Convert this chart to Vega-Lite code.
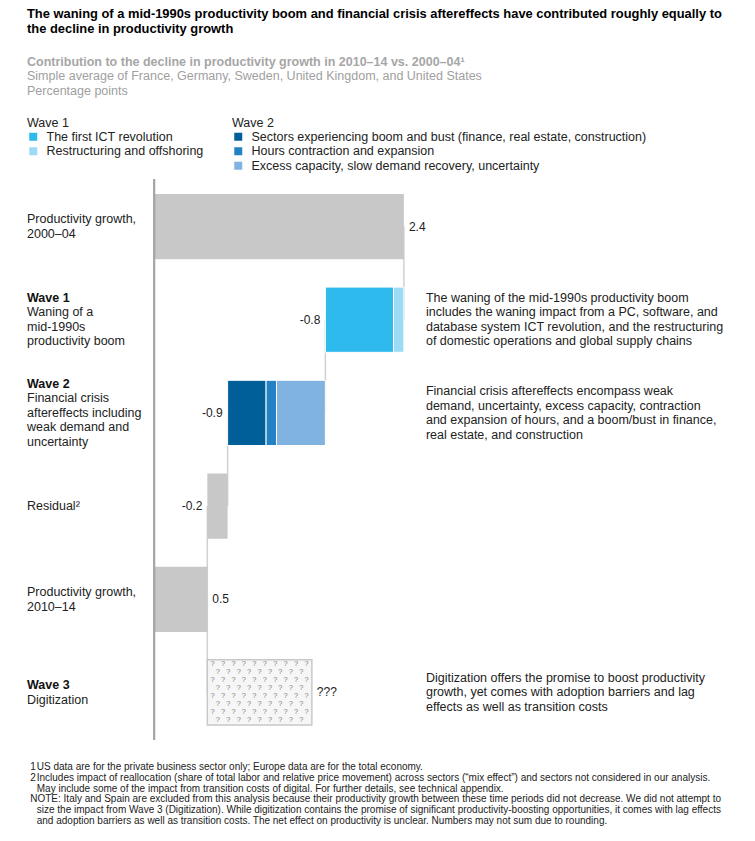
{
  "$schema": "https://vega.github.io/schema/vega-lite/v6.json",
  "padding": {"left": 27, "top": 8, "right": 5, "bottom": 5},
  "background": "white",
  "title": {
    "text": ["The waning of a mid-1990s productivity boom and financial crisis aftereffects have contributed roughly equally to", "the decline in productivity growth"],
    "anchor": "start",
    "font": "Liberation Sans",
    "fontSize": 12.9,
    "fontWeight": "bold",
    "color": "#000000",
    "lineHeight": 15,
    "offset": 20
  },
  "datasets": {
    "segments": [
      {"row": "p2000", "segment": "Productivity growth, 2000–04", "start": 0, "end": 2.4},
      {"row": "wave1", "segment": "The first ICT revolution", "start": 1.645, "end": 2.3},
      {"row": "wave1", "segment": "Restructuring and offshoring", "start": 2.3, "end": 2.4},
      {"row": "wave2", "segment": "Sectors experiencing boom and bust (finance, real estate, construction)", "start": 0.705, "end": 1.075},
      {"row": "wave2", "segment": "Hours contraction and expansion", "start": 1.075, "end": 1.175},
      {"row": "wave2", "segment": "Excess capacity, slow demand recovery, uncertainty", "start": 1.175, "end": 1.645},
      {"row": "residual", "segment": "Residual", "start": 0.51, "end": 0.705},
      {"row": "p2010", "segment": "Productivity growth, 2010–14", "start": 0, "end": 0.51},
      {"row": "wave3", "segment": "Digitization", "start": 0.51, "end": 1.515}
    ],
    "rows": [
      {"row": "p2000", "heading": "", "label": "Productivity growth,\n2000–04", "value": "2.4", "low": 0, "high": 2.4, "change": "total", "note": ""},
      {"row": "wave1", "heading": "Wave 1", "label": "Waning of a\nmid-1990s\nproductivity boom", "value": "-0.8", "low": 1.645, "high": 2.4, "change": "decrease", "note": "The waning of the mid-1990s productivity boom\nincludes the waning impact from a PC, software, and\ndatabase system ICT revolution, and the restructuring\nof domestic operations and global supply chains"},
      {"row": "wave2", "heading": "Wave 2", "label": "Financial crisis\naftereffects including\nweak demand and\nuncertainty", "value": "-0.9", "low": 0.705, "high": 1.645, "change": "decrease", "note": "Financial crisis aftereffects encompass weak\ndemand, uncertainty, excess capacity, contraction\nand expansion of hours, and a boom/bust in finance,\nreal estate, and construction"},
      {"row": "residual", "heading": "", "label": "Residual²", "value": "-0.2", "low": 0.51, "high": 0.705, "change": "decrease", "note": ""},
      {"row": "p2010", "heading": "", "label": "Productivity growth,\n2010–14", "value": "0.5", "low": 0, "high": 0.51, "change": "total", "note": ""},
      {"row": "wave3", "heading": "Wave 3", "label": "Digitization", "value": "???", "low": 0.51, "high": 1.515, "change": "unknown", "note": "Digitization offers the promise to boost productivity\ngrowth, yet comes with adoption barriers and lag\neffects as well as transition costs"}
    ],
    "connectors": [
      {"from": "p2000", "to": "wave1", "at": 2.4},
      {"from": "wave1", "to": "wave2", "at": 1.645},
      {"from": "wave2", "to": "residual", "at": 0.705},
      {"from": "residual", "to": "p2010", "at": 0.51},
      {"from": "p2010", "to": "wave3", "at": 0.51}
    ],
    "pattern": [
      {"row": "wave3", "marks": "?\u00a0\u00a0\u00a0?\u00a0\u00a0\u00a0?\u00a0\u00a0\u00a0?\u00a0\u00a0\u00a0?\u00a0\u00a0\u00a0?\u00a0\u00a0\u00a0?\u00a0\u00a0\u00a0?\u00a0\u00a0\u00a0?\u00a0\u00a0\u00a0?\n?\u00a0\u00a0\u00a0?\u00a0\u00a0\u00a0?\u00a0\u00a0\u00a0?\u00a0\u00a0\u00a0?\u00a0\u00a0\u00a0?\u00a0\u00a0\u00a0?\u00a0\u00a0\u00a0?\u00a0\u00a0\u00a0?\n?\u00a0\u00a0\u00a0?\u00a0\u00a0\u00a0?\u00a0\u00a0\u00a0?\u00a0\u00a0\u00a0?\u00a0\u00a0\u00a0?\u00a0\u00a0\u00a0?\u00a0\u00a0\u00a0?\u00a0\u00a0\u00a0?\u00a0\u00a0\u00a0?\n?\u00a0\u00a0\u00a0?\u00a0\u00a0\u00a0?\u00a0\u00a0\u00a0?\u00a0\u00a0\u00a0?\u00a0\u00a0\u00a0?\u00a0\u00a0\u00a0?\u00a0\u00a0\u00a0?\u00a0\u00a0\u00a0?\n?\u00a0\u00a0\u00a0?\u00a0\u00a0\u00a0?\u00a0\u00a0\u00a0?\u00a0\u00a0\u00a0?\u00a0\u00a0\u00a0?\u00a0\u00a0\u00a0?\u00a0\u00a0\u00a0?\u00a0\u00a0\u00a0?\u00a0\u00a0\u00a0?\n?\u00a0\u00a0\u00a0?\u00a0\u00a0\u00a0?\u00a0\u00a0\u00a0?\u00a0\u00a0\u00a0?\u00a0\u00a0\u00a0?\u00a0\u00a0\u00a0?\u00a0\u00a0\u00a0?\u00a0\u00a0\u00a0?\n?\u00a0\u00a0\u00a0?\u00a0\u00a0\u00a0?\u00a0\u00a0\u00a0?\u00a0\u00a0\u00a0?\u00a0\u00a0\u00a0?\u00a0\u00a0\u00a0?\u00a0\u00a0\u00a0?\u00a0\u00a0\u00a0?\u00a0\u00a0\u00a0?\n?\u00a0\u00a0\u00a0?\u00a0\u00a0\u00a0?\u00a0\u00a0\u00a0?\u00a0\u00a0\u00a0?\u00a0\u00a0\u00a0?\u00a0\u00a0\u00a0?\u00a0\u00a0\u00a0?\u00a0\u00a0\u00a0?"}
    ],
    "footnotes": [
      {"line": 1, "col": "a", "text": "1"},
      {"line": 1, "col": "b", "text": "US data are for the private business sector only; Europe data are for the total economy."},
      {"line": 2, "col": "a", "text": "2"},
      {"line": 2, "col": "b", "text": "Includes impact of reallocation (share of total labor and relative price movement) across sectors (“mix effect”) and sectors not considered in our analysis."},
      {"line": 3, "col": "b", "text": "May include some of the impact from transition costs of digital. For further details, see technical appendix."},
      {"line": 4, "col": "a", "text": "NOTE: Italy and Spain are excluded from this analysis because their productivity growth between these time periods did not decrease. We did not attempt to"},
      {"line": 5, "col": "b", "text": "size the impact from Wave 3 (Digitization). While digitization contains the promise of significant productivity-boosting opportunities, it comes with lag effects"},
      {"line": 6, "col": "b", "text": "and adoption barriers as well as transition costs. The net effect on productivity is unclear. Numbers may not sum due to rounding."}
    ]
  },
  "vconcat": [
    {
      "width": 718,
      "height": 561,
      "title": {
        "text": "Contribution to the decline in productivity growth in 2010–14 vs. 2000–04¹",
        "subtitle": ["Simple average of France, Germany, Sweden, United Kingdom, and United States", "Percentage points"],
        "anchor": "start",
        "font": "Liberation Sans",
        "fontSize": 12.5,
        "fontWeight": "bold",
        "color": "#A6A6A6",
        "subtitleFont": "Liberation Sans",
        "subtitleFontSize": 12.5,
        "subtitleColor": "#A0A0A0",
        "subtitleLineHeight": 14.3,
        "subtitlePadding": 2,
        "offset": 81
      },
      "layer": [
        {
          "data": {"name": "connectors"},
          "mark": {"type": "rule", "color": "#D0D0D0", "strokeWidth": 1.5},
          "encoding": {
            "x": {"field": "at", "type": "quantitative", "axis": null, "scale": {"domain": [-1.224, 5.68], "nice": false, "zero": false}},
            "y": {"field": "from", "type": "nominal", "axis": null, "scale": {"domain": ["p2000", "wave1", "wave2", "residual", "p2010", "wave3"], "paddingInner": 0.3, "paddingOuter": 0.16}},
            "y2": {"field": "to"}
          }
        },
        {
          "data": {"name": "segments"},
          "transform": [{"filter": {"field": "row", "oneOf": ["p2000", "residual", "p2010"]}}],
          "mark": {"type": "bar", "color": "#C8C8C8"},
          "encoding": {
            "x": {"field": "start", "type": "quantitative", "axis": null},
            "x2": {"field": "end"},
            "y": {"field": "row", "type": "nominal", "axis": null}
          }
        },
        {
          "data": {"name": "segments"},
          "transform": [{"filter": {"field": "row", "equal": "wave1"}}],
          "mark": {"type": "bar", "stroke": "white", "strokeWidth": 1},
          "encoding": {
            "x": {"field": "start", "type": "quantitative", "axis": null},
            "x2": {"field": "end"},
            "y": {"field": "row", "type": "nominal", "axis": null},
            "color": {
              "field": "segment", "type": "nominal",
              "scale": {"domain": ["The first ICT revolution", "Restructuring and offshoring"], "range": ["#2EBAEC", "#9CDBF6"]},
              "legend": {"title": "Wave 1", "orient": "none", "legendX": 0, "legendY": -62, "symbolType": "square", "symbolSize": 64, "symbolStrokeWidth": 0, "labelFont": "Liberation Sans", "labelFontSize": 12.5, "labelColor": "#222222", "labelLimit": 500, "labelOffset": 7, "titleFont": "Liberation Sans", "titleFontSize": 12.5, "titleFontWeight": "normal", "titleColor": "#222222", "titlePadding": 1, "rowPadding": 1.5}
            }
          }
        },
        {
          "data": {"name": "segments"},
          "transform": [{"filter": {"field": "row", "equal": "wave2"}}],
          "mark": {"type": "bar", "stroke": "white", "strokeWidth": 1},
          "encoding": {
            "x": {"field": "start", "type": "quantitative", "axis": null},
            "x2": {"field": "end"},
            "y": {"field": "row", "type": "nominal", "axis": null},
            "fill": {
              "field": "segment", "type": "nominal",
              "scale": {"domain": ["Sectors experiencing boom and bust (finance, real estate, construction)", "Hours contraction and expansion", "Excess capacity, slow demand recovery, uncertainty"], "range": ["#005E98", "#2481C4", "#80B3DF"]},
              "legend": {"title": "Wave 2", "orient": "none", "legendX": 205, "legendY": -62, "symbolType": "square", "symbolSize": 64, "symbolStrokeWidth": 0, "labelFont": "Liberation Sans", "labelFontSize": 12.5, "labelColor": "#222222", "labelLimit": 500, "labelOffset": 7, "titleFont": "Liberation Sans", "titleFontSize": 12.5, "titleFontWeight": "normal", "titleColor": "#222222", "titlePadding": 1, "rowPadding": 1.5}
            }
          }
        },
        {
          "data": {"name": "segments"},
          "transform": [{"filter": {"field": "row", "equal": "wave3"}}],
          "mark": {"type": "bar", "fill": "#F6F6F6", "stroke": "#C8C8C8", "strokeWidth": 1.5},
          "encoding": {
            "x": {"field": "start", "type": "quantitative", "axis": null},
            "x2": {"field": "end"},
            "y": {"field": "row", "type": "nominal", "axis": null}
          }
        },
        {
          "data": {"name": "pattern"},
          "mark": {"type": "text", "align": "center", "baseline": "middle", "dy": -28, "font": "Liberation Sans", "fontSize": 7.5, "color": "#808080", "lineBreak": "\n", "lineHeight": 8},
          "encoding": {
            "x": {"datum": 1.0125, "type": "quantitative", "axis": null},
            "y": {"field": "row", "type": "nominal", "axis": null},
            "text": {"field": "marks", "type": "nominal"}
          }
        },
        {
          "data": {"name": "rows"},
          "mark": {"type": "rule", "color": "#A6A6A6", "strokeWidth": 1.5},
          "encoding": {"x": {"datum": 0, "type": "quantitative", "axis": null}}
        },
        {
          "data": {"name": "rows"},
          "transform": [{"filter": {"field": "change", "oneOf": ["total", "unknown"]}}],
          "mark": {"type": "text", "align": "left", "baseline": "middle", "dx": 5, "font": "Liberation Sans", "fontSize": 12, "color": "#222222"},
          "encoding": {
            "x": {"field": "high", "type": "quantitative", "axis": null},
            "y": {"field": "row", "type": "nominal", "axis": null},
            "text": {"field": "value", "type": "nominal"}
          }
        },
        {
          "data": {"name": "rows"},
          "transform": [{"filter": {"field": "change", "equal": "decrease"}}],
          "mark": {"type": "text", "align": "right", "baseline": "middle", "dx": -5, "font": "Liberation Sans", "fontSize": 12, "color": "#222222"},
          "encoding": {
            "x": {"field": "low", "type": "quantitative", "axis": null},
            "y": {"field": "row", "type": "nominal", "axis": null},
            "text": {"field": "value", "type": "nominal"}
          }
        },
        {
          "data": {"name": "rows"},
          "transform": [{"filter": {"field": "row", "oneOf": ["p2000", "p2010", "wave1"]}}],
          "mark": {"type": "text", "align": "left", "baseline": "middle", "dy": -7.25, "font": "Liberation Sans", "fontSize": 12.5, "color": "#222222", "lineBreak": "\n", "lineHeight": 14.5},
          "encoding": {
            "x": {"datum": -1.224, "type": "quantitative", "axis": null},
            "y": {"field": "row", "type": "nominal", "axis": null},
            "text": {"field": "label", "type": "nominal"}
          }
        },
        {
          "data": {"name": "rows"},
          "transform": [{"filter": {"field": "row", "equal": "residual"}}],
          "mark": {"type": "text", "align": "left", "baseline": "middle", "font": "Liberation Sans", "fontSize": 12.5, "color": "#222222", "lineBreak": "\n", "lineHeight": 14.5},
          "encoding": {
            "x": {"datum": -1.224, "type": "quantitative", "axis": null},
            "y": {"field": "row", "type": "nominal", "axis": null},
            "text": {"field": "label", "type": "nominal"}
          }
        },
        {
          "data": {"name": "rows"},
          "transform": [{"filter": {"field": "row", "equal": "wave2"}}],
          "mark": {"type": "text", "align": "left", "baseline": "middle", "dy": -14.5, "font": "Liberation Sans", "fontSize": 12.5, "color": "#222222", "lineBreak": "\n", "lineHeight": 14.5},
          "encoding": {
            "x": {"datum": -1.224, "type": "quantitative", "axis": null},
            "y": {"field": "row", "type": "nominal", "axis": null},
            "text": {"field": "label", "type": "nominal"}
          }
        },
        {
          "data": {"name": "rows"},
          "transform": [{"filter": {"field": "row", "equal": "wave3"}}],
          "mark": {"type": "text", "align": "left", "baseline": "middle", "dy": 7.25, "font": "Liberation Sans", "fontSize": 12.5, "color": "#222222", "lineBreak": "\n", "lineHeight": 14.5},
          "encoding": {
            "x": {"datum": -1.224, "type": "quantitative", "axis": null},
            "y": {"field": "row", "type": "nominal", "axis": null},
            "text": {"field": "label", "type": "nominal"}
          }
        },
        {
          "data": {"name": "rows"},
          "transform": [{"filter": {"field": "row", "equal": "wave1"}}],
          "mark": {"type": "text", "align": "left", "baseline": "middle", "dy": -21.75, "font": "Liberation Sans", "fontSize": 12.5, "fontWeight": "bold", "color": "#111111"},
          "encoding": {
            "x": {"datum": -1.224, "type": "quantitative", "axis": null},
            "y": {"field": "row", "type": "nominal", "axis": null},
            "text": {"field": "heading", "type": "nominal"}
          }
        },
        {
          "data": {"name": "rows"},
          "transform": [{"filter": {"field": "row", "equal": "wave2"}}],
          "mark": {"type": "text", "align": "left", "baseline": "middle", "dy": -29, "font": "Liberation Sans", "fontSize": 12.5, "fontWeight": "bold", "color": "#111111"},
          "encoding": {
            "x": {"datum": -1.224, "type": "quantitative", "axis": null},
            "y": {"field": "row", "type": "nominal", "axis": null},
            "text": {"field": "heading", "type": "nominal"}
          }
        },
        {
          "data": {"name": "rows"},
          "transform": [{"filter": {"field": "row", "equal": "wave3"}}],
          "mark": {"type": "text", "align": "left", "baseline": "middle", "dy": -7.25, "font": "Liberation Sans", "fontSize": 12.5, "fontWeight": "bold", "color": "#111111"},
          "encoding": {
            "x": {"datum": -1.224, "type": "quantitative", "axis": null},
            "y": {"field": "row", "type": "nominal", "axis": null},
            "text": {"field": "heading", "type": "nominal"}
          }
        },
        {
          "data": {"name": "rows"},
          "transform": [{"filter": {"field": "row", "oneOf": ["wave1", "wave2"]}}],
          "mark": {"type": "text", "align": "left", "baseline": "middle", "dy": -21.75, "font": "Liberation Sans", "fontSize": 12.5, "color": "#222222", "lineBreak": "\n", "lineHeight": 14.5},
          "encoding": {
            "x": {"datum": 2.612, "type": "quantitative", "axis": null},
            "y": {"field": "row", "type": "nominal", "axis": null},
            "text": {"field": "note", "type": "nominal"}
          }
        },
        {
          "data": {"name": "rows"},
          "transform": [{"filter": {"field": "row", "equal": "wave3"}}],
          "mark": {"type": "text", "align": "left", "baseline": "middle", "dy": -14.5, "font": "Liberation Sans", "fontSize": 12.5, "color": "#222222", "lineBreak": "\n", "lineHeight": 14.5},
          "encoding": {
            "x": {"datum": 2.612, "type": "quantitative", "axis": null},
            "y": {"field": "row", "type": "nominal", "axis": null},
            "text": {"field": "note", "type": "nominal"}
          }
        }
      ]
    },
    {
      "width": 718,
      "height": 64,
      "data": {"name": "footnotes"},
      "mark": {"type": "text", "align": "left", "baseline": "middle", "font": "Liberation Sans", "fontSize": 10, "color": "#222222"},
      "encoding": {
        "y": {"field": "line", "type": "ordinal", "axis": null, "scale": {"type": "point", "padding": 0.5}},
        "x": {"field": "col", "type": "nominal", "axis": null, "scale": {"type": "point", "domain": ["a", "b"], "range": [0, 13]}},
        "text": {"field": "text", "type": "nominal"}
      }
    }
  ],
  "spacing": 21,
  "config": {"view": {"stroke": null}, "font": "Liberation Sans"}
}
